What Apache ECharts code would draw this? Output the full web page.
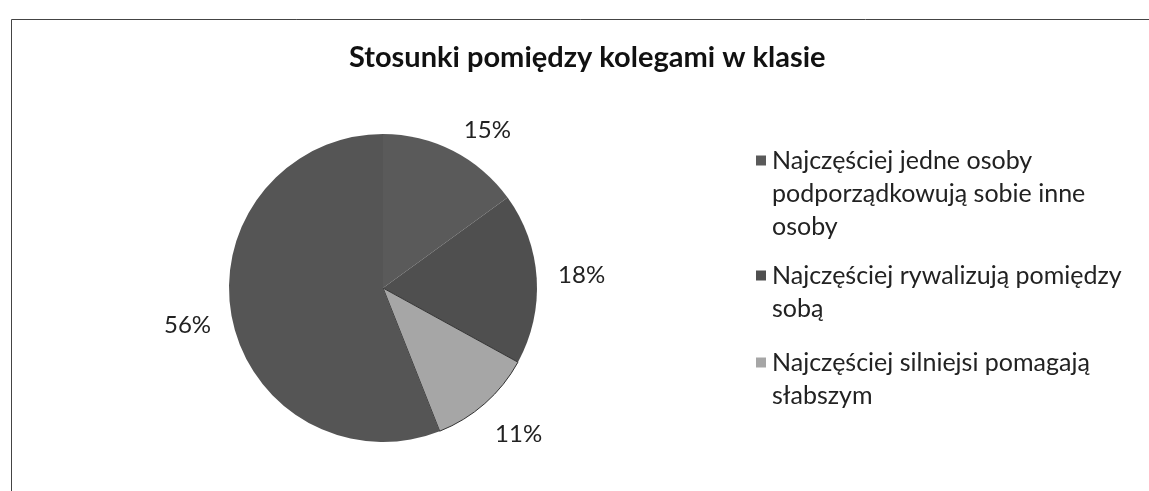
<!DOCTYPE html>
<html>
<head>
<meta charset="utf-8">
<script src="https://cdn.jsdelivr.net/npm/echarts@6/dist/echarts.min.js"></script>
<style>
html,body{margin:0;padding:0;background:#fff;}
#chart{width:1149px;height:491px;}
</style>
</head>
<body>
<div id="chart"></div>
<script>
const title = 'Stosunki pomiędzy kolegami w klasie';
const categories = [
  'Najczęściej jedne osoby podporządkowują sobie inne osoby',
  'Najczęściej rywalizują pomiędzy sobą',
  'Najczęściej silniejsi pomagają słabszym',
  'Pozostałe'
];
const legendLines = [
  ['Najczęściej jedne osoby', 'podporządkowują sobie inne', 'osoby'],
  ['Najczęściej rywalizują pomiędzy', 'sobą'],
  ['Najczęściej silniejsi pomagają', 'słabszym']
];
const values = [15, 18, 11, 56];
const colors = ['#5a5a5a', '#4f4f4f', '#a6a6a6', '#555555'];
const labelOffsets = [[14, 20], [0, 0], [4, -3], [0, 0]];

const FONT = 'Lato';
const chart = echarts.init(document.getElementById('chart'), null, {renderer: 'canvas'});

const data = categories.map((c, i) => ({
  name: c, value: values[i],
  itemStyle: {color: colors[i], borderColor: '#333', borderWidth: i === 2 ? 1 : 0}
}));

const legendTops = [148, 263, 350];
const legends = legendLines.map((lines, i) => ({
  orient: 'vertical',
  left: 751,
  top: legendTops[i],
  padding: 0,
  icon: 'none',
  itemWidth: 0,
  itemHeight: 0,
  itemGap: 0,
  data: [categories[i]],
  selectedMode: false,
  formatter: () => lines.map((l, k) => (k === 0 ? '{m|}{g|}' : '{ind|}') + '{t|' + l + '}').join('\n'),
  textStyle: {
    rich: {
      m: {width: 10, height: 10, backgroundColor: colors[i]},
      g: {width: 6},
      ind: {width: 16},
      t: {fontSize: 25, fontFamily: FONT, color: '#222', lineHeight: 33}
    }
  }
}));

chart.setOption({
  animation: false,
  backgroundColor: '#fff',
  title: {
    text: title,
    left: 344,
    top: 38,
    textStyle: {fontSize: 29, fontWeight: 'bold', fontFamily: FONT, color: '#111'}
  },
  legend: legends,
  graphic: [{
    type: 'rect',
    shape: {x: 11.5, y: 19.5, width: 1300, height: 600},
    style: {fill: 'none', stroke: '#444', lineWidth: 1},
    silent: true
  }],
  series: [{
    type: 'pie',
    center: [383, 288],
    radius: [0, 154],
    startAngle: 90,
    clockwise: true,
    data: data,
    label: {show: false},
    labelLine: {show: false},
    emphasis: {disabled: true},
    silent: true
  }, {
    type: 'pie',
    center: [383, 288],
    radius: [0, 392],
    startAngle: 90,
    clockwise: true,
    data: categories.map((c, i) => ({
      name: c, value: values[i],
      label: {offset: labelOffsets[i]}
    })),
    itemStyle: {color: 'rgba(0,0,0,0)'},
    label: {
      show: true,
      position: 'inside',
      formatter: p => p.value + '%',
      fontSize: 24,
      fontFamily: FONT,
      color: '#222'
    },
    labelLine: {show: false},
    emphasis: {disabled: true},
    silent: true,
    z: 5
  }]
});
</script>
</body>
</html>
